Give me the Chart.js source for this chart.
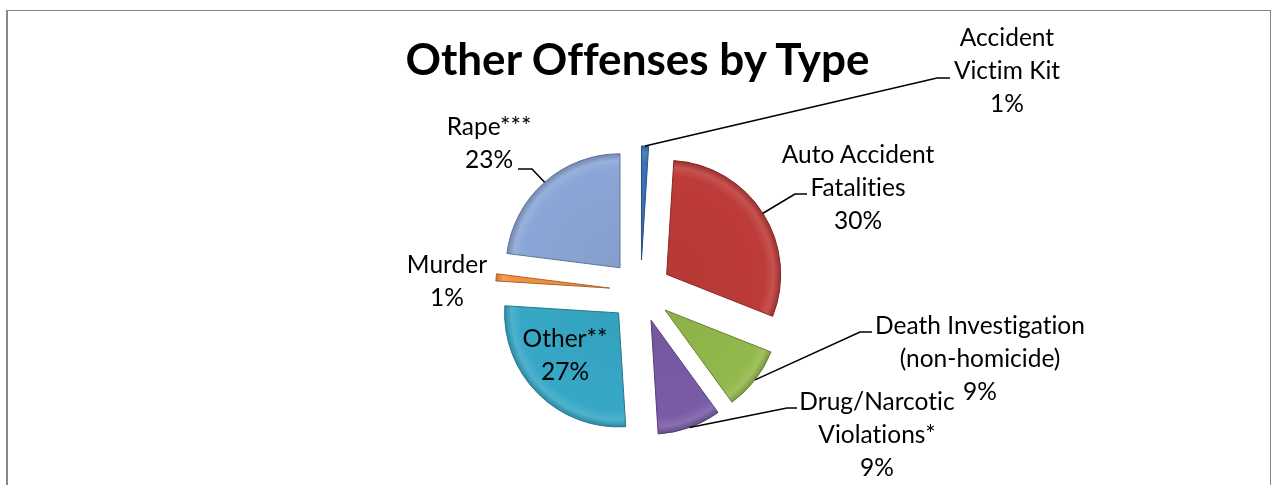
<!DOCTYPE html>
<html>
<head>
<meta charset="utf-8">
<script src="https://cdn.jsdelivr.net/npm/chart.js@4.4.1/dist/chart.umd.min.js"></script>
<style>
html,body{margin:0;padding:0;background:#fff;overflow:hidden;}
#frame{position:absolute;left:6px;top:10px;width:1262px;height:490px;border-left:2px solid #888;border-top:1px solid #888;border-right:1px solid #888;}
#wrap{position:absolute;left:0;top:0;width:1271px;height:485px;}
canvas{font-variant-ligatures:none;}
</style>
</head>
<body>
<div id="frame"></div>
<div id="wrap"><canvas id="c" width="1271" height="485"></canvas></div>
<script>
// ---- data ----
const chartTitle = 'Other Offenses by Type';
const categories = ['Accident Victim Kit','Auto Accident Fatalities','Death Investigation (non-homicide)','Drug/Narcotic Violations*','Other**','Murder','Rape***'];
const values = [1, 30, 9, 9, 27, 1, 23];
const labelLines = [['Accident','Victim Kit'],['Auto Accident','Fatalities'],['Death Investigation','(non-homicide)'],['Drug/Narcotic','Violations*'],['Other**'],['Murder'],['Rape***']];
const sliceColors = ['#3A72B8','#BD3B38','#93B84C','#7A5BA6','#36A8C6','#F2913E','#8AA6D6'];

// ---- label layout (pixels, relative to pie centre) ----
const labelLayout = [
  {x:366.5, y:-245,  leader:[[296.5,-213],[309.5,-213]]},
  {x:217.5, y:-127.7,leader:[[154.5,-97],[166.5,-97]]},
  {x:339.5, y:43,    leader:[[219.5,41],[231.5,41]]},
  {x:236.5, y:118.5, leader:[[146.5,117],[156.5,117]]},
  {x:-75.5, y:55.7,  leader:null},
  {x:-193.5,y:-17.7, leader:null},
  {x:-151.5,y:-156,  leader:[[-108.5,-122],[-122.5,-122]]}
];
const LINE_H = 33;
const LABEL_FONT = '24.5px Lato';
const TITLE_FONT = 'bold 44px Lato';
const PIE_R = 114;
const EXPLODE = 31;

function shade(hex, f){
  const n = parseInt(hex.slice(1),16);
  let r=(n>>16)&255,g=(n>>8)&255,b=n&255;
  const t = f<0?0:255, p=Math.abs(f);
  r=Math.round((t-r)*p+r); g=Math.round((t-g)*p+g); b=Math.round((t-b)*p+b);
  return 'rgb('+r+','+g+','+b+')';
}

// exploded pie: every arc is pushed out along its bisector by EXPLODE px
class ExplodedArc extends Chart.ArcElement {
  draw(ctx){
    const mid = (this.startAngle + this.endAngle) / 2;
    ctx.save();
    ctx.translate(Math.cos(mid) * EXPLODE, Math.sin(mid) * EXPLODE);
    super.draw(ctx);
    ctx.restore();
  }
}
ExplodedArc.id = 'explodedArc';
ExplodedArc.defaults = Chart.ArcElement.defaults;
class ExplodedPie extends Chart.PieController {}
ExplodedPie.id = 'explodedPie';
ExplodedPie.defaults = {dataElementType: 'explodedArc'};
ExplodedPie.overrides = Chart.PieController.overrides;
Chart.register(ExplodedArc, ExplodedPie);

function noLig(ctx){
  if ('textRendering' in ctx) ctx.textRendering = 'optimizeLegibility';
  if ('letterSpacing' in ctx) ctx.letterSpacing = '0.01px';
}

const labelPlugin = {
  id:'sliceLabels',
  afterDatasetsDraw(chart){
    const ctx = chart.ctx;
    const meta = chart.getDatasetMeta(0);
    const total = values.reduce((a,b)=>a+b,0);
    let cx=0, cy=0;
    meta.data.forEach((arc,i)=>{
      const p = arc.getProps(['x','y','startAngle','endAngle','outerRadius'], true);
      cx=p.x; cy=p.y;
      const mid = (p.startAngle+p.endAngle)/2;
      const L = labelLayout[i];
      const lines = labelLines[i].concat([Math.round(values[i]/total*100)+'%']);
      ctx.save();
      if (L.leader){
        const sx = p.x + Math.cos(mid)*(p.outerRadius+EXPLODE);
        const sy = p.y + Math.sin(mid)*(p.outerRadius+EXPLODE);
        ctx.strokeStyle='#000'; ctx.lineWidth=1.6;
        ctx.beginPath();
        ctx.moveTo(sx,sy);
        ctx.lineTo(p.x+L.leader[0][0], p.y+L.leader[0][1]);
        ctx.lineTo(p.x+L.leader[1][0], p.y+L.leader[1][1]);
        ctx.stroke();
      }
      ctx.font = LABEL_FONT; ctx.fillStyle='#000';
      noLig(ctx);
      ctx.textAlign='center'; ctx.textBaseline='alphabetic';
      lines.forEach((t,k)=>ctx.fillText(t, p.x+L.x, p.y+L.y+k*LINE_H));
      ctx.restore();
    });
    ctx.save();
    ctx.font = TITLE_FONT; ctx.fillStyle='#000';
    noLig(ctx);
    ctx.textAlign='center'; ctx.textBaseline='alphabetic';
    ctx.fillText(chartTitle, cx-3, cy-216);
    ctx.restore();
  }
};

new Chart(document.getElementById('c'), {
  type:'explodedPie',
  data:{
    labels: categories,
    datasets:[{
      data: values,
      backgroundColor: (c)=>{
        const base = sliceColors[c.dataIndex];
        const ch = c.chart; const a = ch.chartArea;
        if(!a) return base;
        const x=(a.left+a.right)/2, y=(a.top+a.bottom)/2;
        const g = ch.ctx.createRadialGradient(x,y,0,x,y,PIE_R);
        g.addColorStop(0, shade(base,-0.04));
        g.addColorStop(0.86, base);
        g.addColorStop(0.94, shade(base,0.12));
        g.addColorStop(1, shade(base,-0.18));
        return g;
      },
      borderColor: sliceColors.map(c=>shade(c,-0.3)),
      borderWidth: 1
    }]
  },
  options:{
    responsive:false,
    animation:false,
    radius: PIE_R,
    layout:{padding:{left:10,right:0,top:97,bottom:0}},
    plugins:{legend:{display:false},title:{display:false},tooltip:{enabled:false}}
  },
  plugins:[labelPlugin]
});
</script>
</body>
</html>
